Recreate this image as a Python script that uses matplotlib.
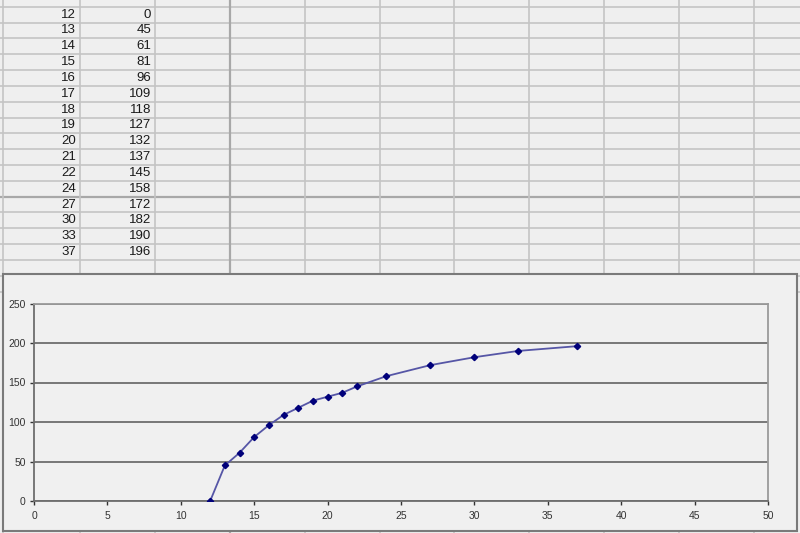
import matplotlib
matplotlib.use("Agg")
import matplotlib.pyplot as plt
from matplotlib.patches import Rectangle

# data shown in the sheet and plotted in the chart
x_vals = [12, 13, 14, 15, 16, 17, 18, 19, 20, 21, 22, 24, 27, 30, 33, 37]
y_vals = [0, 45, 61, 81, 96, 109, 118, 127, 132, 137, 145, 158, 172, 182, 190, 196]
x_ticks = [0, 5, 10, 15, 20, 25, 30, 35, 40, 45, 50]
y_ticks = [0, 50, 100, 150, 200, 250]

plt.rcParams["font.family"] = ["Liberation Sans", "DejaVu Sans"]

W, H = 800, 533
fig = plt.figure(figsize=(8, 5.33), dpi=100)
fig.patch.set_facecolor("#efefef")

# -------------------------
# spreadsheet background (pixel coords)
# -------------------------
bg = fig.add_axes([0, 0, 1, 1])
bg.set_xlim(0, W)
bg.set_ylim(H, 0)
bg.axis("off")
bg.set_facecolor("#efefef")

row_top = 6.7
row_h = 15.83
for i in range(-1, 19):
    yy = row_top + i * row_h
    dark = abs(yy - 196.7) < 1
    bg.plot([0, W], [yy, yy], color="#a8a8a8" if dark else "#c4c4c4",
            lw=1.6 if dark else 1.2, zorder=1)

col_lines = [3, 80, 155, 230, 305, 380, 454, 529, 604, 679, 754]
for cx in col_lines:
    dark = cx == 230
    bg.plot([cx, cx], [0, H], color="#a8a8a8" if dark else "#c4c4c4",
            lw=1.6 if dark else 1.2, zorder=1)

for i, (a, b) in enumerate(zip(x_vals, y_vals)):
    yc = row_top + (i + 0.5) * row_h
    bg.text(76, yc, str(a), ha="right", va="center", fontsize=9.5, color="#1a1a1a", zorder=2)
    bg.text(151, yc, str(b), ha="right", va="center", fontsize=9.5, color="#1a1a1a", zorder=2)

# chart area box
bg.add_patch(Rectangle((3, 274), 794, 257, facecolor="#f0f0f0",
                       edgecolor="#7a7a7a", lw=1.5, zorder=3))

# -------------------------
# chart plot area
# -------------------------
left, right, top, bottom = 34, 768, 303.5, 501
ax = fig.add_axes([left / W, (H - bottom) / H, (right - left) / W, (bottom - top) / H])
ax.set_facecolor("#f0f0f0")
ax.set_zorder(4)

ax.plot(x_vals, y_vals, color="#5656a6", lw=1.3, marker="D", markersize=3.2,
        markerfacecolor="#00007a", markeredgecolor="#00007a", zorder=3)

ax.set_xlim(0, 50)
ax.set_ylim(0, 250)
ax.set_xticks(x_ticks)
ax.set_yticks(y_ticks)
ax.grid(axis="y", color="#6e6e6e", lw=1.3)
ax.set_axisbelow(True)

for side in ["top", "right"]:
    ax.spines[side].set_color("#9a9a9a")
    ax.spines[side].set_linewidth(1.3)
for side in ["left", "bottom"]:
    ax.spines[side].set_color("#6e6e6e")
    ax.spines[side].set_linewidth(1.3)

ax.tick_params(axis="both", labelsize=7.5, colors="#333333", length=3, width=1,
               direction="out")
ax.tick_params(axis="y", pad=3)
ax.tick_params(axis="x", pad=4)

fig.savefig("out.png", dpi=100, facecolor=fig.get_facecolor())
